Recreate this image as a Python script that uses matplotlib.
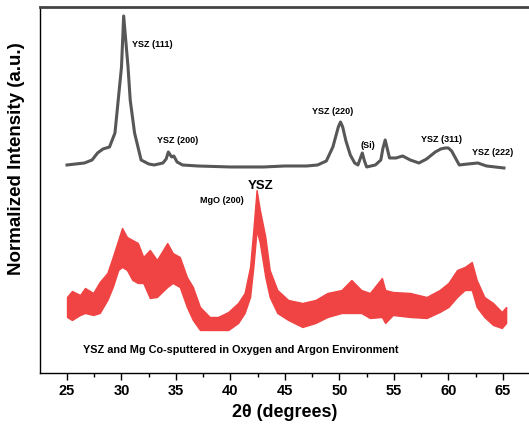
import matplotlib.pyplot as plt
import numpy as np

plt.rcParams['font.family'] = ['Liberation Sans', 'DejaVu Sans']

# YSZ film (arbitrary units)
ysz_x = [25.0, 25.8, 26.6, 27.3, 27.8, 28.3, 28.9, 29.4, 29.7, 30.0, 30.2, 30.6, 30.8, 31.2, 31.8,
         32.5, 33.0, 33.8, 34.1, 34.3, 34.6, 34.8, 35.1, 35.6, 37.0, 40.0, 43.0, 45.0, 47.0,
         48.0, 48.8, 49.4, 49.9, 50.1, 50.3, 50.6, 51.0, 51.4, 51.7, 51.9, 52.1, 52.3, 52.5,
         53.3, 53.8, 54.0, 54.2, 54.4, 54.6, 55.2, 55.8, 56.5, 57.3, 58.0, 58.8, 59.3, 59.7,
         60.0, 60.3, 60.6, 61.0, 61.8, 62.7, 63.5, 64.3, 65.1]
ysz_y = [208, 209, 210, 213, 220, 224, 226, 240, 273, 306, 357, 306, 273, 240, 213,
         209, 208, 210, 214, 221, 216, 217, 211, 208, 207, 206, 206, 207, 207,
         208, 212, 226, 246, 251, 246, 232, 218, 210, 208, 214, 220, 212, 206,
         208, 213, 225, 233, 224, 215, 215, 217, 213, 210, 214, 221, 224, 225,
         225, 222, 216, 208, 209, 210, 207, 206, 205]

# YSZ + Mg co-sputtered film: lower and upper edges of the noisy trace
mg_x = [25.0, 25.45, 26.2, 26.65, 27.4, 28.0, 28.7, 29.2, 29.7, 30.05, 30.5, 31.0, 31.5, 32.0,
        32.6, 33.25, 34.2, 34.7, 35.35, 36.0, 36.55, 37.2, 38.1, 38.85, 39.8, 40.7, 41.3, 41.8,
        42.1, 42.4, 42.7, 43.2, 43.6, 44.3, 45.3, 46.6, 47.8, 48.9, 50.2, 51.1, 52.0, 52.8,
        53.9, 54.2, 54.9, 56.5, 58.0, 59.2, 60.0, 60.8, 61.5, 62.15, 62.6, 63.3, 64.1, 64.9, 65.3]
mg_hi = [76, 82, 78, 85, 80, 91, 100, 116, 133, 145, 136, 133, 130, 116,
         123, 113, 130, 120, 116, 96, 86, 66, 56, 56, 61, 70, 80, 106,
         143, 183, 163, 136, 103, 83, 73, 70, 73, 80, 83, 93, 83, 80,
         95, 83, 81, 80, 76, 83, 90, 103, 106, 111, 93, 76, 70, 61, 66]
mg_lo = [56, 53, 58, 60, 58, 60, 73, 86, 103, 106, 103, 93, 90, 90,
         75, 76, 86, 90, 86, 66, 53, 43, 43, 43, 43, 50, 60, 76,
         106, 143, 130, 96, 76, 60, 53, 46, 50, 56, 60, 60, 60, 55,
         56, 50, 58, 56, 55, 61, 66, 76, 83, 83, 66, 56, 48, 45, 50]

peak_labels = ['YSZ (111)', 'YSZ (200)', 'YSZ (220)', '(Si)', 'YSZ (311)', 'YSZ (222)', 'MgO (200)']
label_x = [31.0, 33.3, 47.5, 51.9, 57.5, 62.2, 37.2]
label_y = [328, 232, 261, 227, 233, 220, 172]

fig = plt.figure(figsize=(5.29, 4.34), dpi=100)
ax = fig.add_axes([0.0756, 0.1406, 0.9244, 0.8433])

ax.fill_between(mg_x, mg_lo, mg_hi, color='#f04444', lw=1.0, edgecolor='#f04444')
ax.plot(ysz_x, ysz_y, color='#575757', lw=2.2)

for lab, lx, ly in zip(peak_labels, label_x, label_y):
    ax.text(lx, ly, lab, fontsize=6.5, fontweight='bold', ha='left', va='center')

ax.text(41.6, 187, 'YSZ', fontsize=9.5, fontweight='bold', ha='left', va='center')
ax.text(26.5, 23, 'YSZ and Mg Co-sputtered in Oxygen and Argon Environment',
        fontsize=7.8, fontweight='bold', ha='left', va='center')

ax.set_xlim(22.52, 67.4)
ax.set_ylim(0, 366)
ax.set_xticks(np.arange(25, 66, 5))
ax.set_xticks(np.arange(27.5, 66, 5), minor=True)
ax.set_yticks([])
ax.tick_params(axis='x', which='major', length=5, width=1, labelsize=10.5, pad=3)
ax.tick_params(axis='x', which='minor', length=3, width=1)
for t in ax.get_xticklabels():
    t.set_fontweight('bold')

ax.spines['right'].set_visible(False)
ax.spines['top'].set_linewidth(2)
ax.spines['top'].set_color('#444444')
ax.spines['left'].set_linewidth(1)
ax.spines['bottom'].set_linewidth(1)

ax.set_xlabel('2θ (degrees)', fontsize=13, fontweight='bold', labelpad=4)
fig.text(0.032, 0.635, 'Normalized Intensity (a.u.)', rotation=90, fontsize=13.5,
         fontweight='bold', ha='center', va='center')

fig.savefig('out.png', dpi=100)
